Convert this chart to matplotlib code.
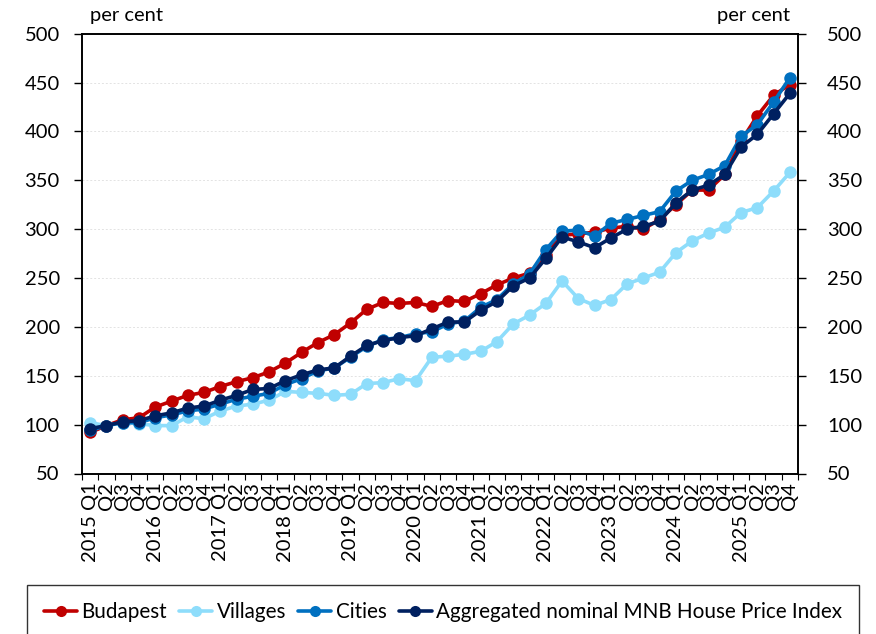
import matplotlib
matplotlib.use("Agg")
import matplotlib.pyplot as plt
from matplotlib.ticker import FixedLocator, MultipleLocator

plt.rcParams['font.family'] = ['Lato', 'DejaVu Sans']

years = list(range(2015, 2026))
quarters = ["Q1", "Q2", "Q3", "Q4"]
tick_labels = []
for yv in years:
    for q in quarters:
        tick_labels.append(f"{yv} {q}" if q == "Q1" else q)

budapest = [92, 99, 105, 107, 118, 124, 130, 133, 139, 144, 148, 154,
            163, 174, 184, 192, 204, 218, 225, 224, 225, 221, 227, 226,
            234, 243, 250, 255, 274, 294, 295, 297, 301, 303, 300, 310,
            325, 340, 340, 356, 390, 416, 437, 448]
villages = [102, 99, 102, 101, 99, 99, 108, 106, 114, 119, 121, 125,
            134, 133, 132, 130, 131, 142, 143, 147, 145, 169, 170, 172,
            175, 185, 203, 212, 224, 247, 229, 222, 228, 244, 250, 256,
            276, 288, 296, 302, 317, 322, 339, 358]
cities = [94, 99, 102, 102, 107, 110, 114, 116, 121, 126, 129, 132,
          141, 147, 155, 158, 169, 180, 187, 189, 193, 195, 203, 206,
          220, 228, 244, 254, 279, 298, 299, 293, 306, 310, 314, 318,
          339, 350, 356, 365, 395, 407, 430, 455]
aggregated = [96, 99, 103, 104, 109, 112, 117, 119, 125, 130, 136, 137,
              145, 151, 156, 158, 170, 181, 186, 189, 191, 198, 205, 205,
              217, 226, 242, 250, 270, 292, 287, 281, 291, 300, 303, 308,
              327, 340, 345, 356, 384, 397, 418, 439]

series = [
    ("Budapest", budapest, "#C00000"),
    ("Villages", villages, "#8EDDFB"),
    ("Cities", cities, "#0070C0"),
    ("Aggregated nominal MNB House Price Index", aggregated, "#002060"),
]

fig = plt.figure(figsize=(8.76, 6.34), dpi=100)
ax = fig.add_axes([82/876, 1-473.5/634, (798-82)/876, (473.5-33.7)/634])

x = list(range(len(tick_labels)))
handles = []
for name, vals, col in series:
    h, = ax.plot(x, vals, color=col, lw=2.6, marker='o', markersize=9,
                 markeredgewidth=0, label=name, solid_capstyle='round')
    handles.append(h)

ax.set_xlim(-0.5, len(x) - 0.5)
ax.set_ylim(50, 500)
ax.yaxis.set_major_locator(MultipleLocator(50))
ax.grid(axis='y', color='#E3E3E3', ls=(0, (2, 2)), lw=0.7)
ax.set_axisbelow(True)

ax.set_xticks(x)
ax.set_xticklabels(tick_labels, rotation=90, fontsize=14.5)
ax.tick_params(axis='x', which='major', length=0, pad=6)
ax.xaxis.set_minor_locator(FixedLocator([i - 0.5 for i in range(len(x) + 1)]))
ax.tick_params(axis='x', which='minor', length=4, width=0.8, direction='out')

ax.tick_params(axis='y', labelsize=14.5, length=6, width=1, pad=10, direction='out')
for s in ax.spines.values():
    s.set_color('black')
    s.set_linewidth(1.2)

ax2 = ax.twinx()
ax2.set_ylim(50, 500)
ax2.yaxis.set_major_locator(MultipleLocator(50))
ax2.tick_params(axis='y', labelsize=14.5, length=6, width=1, pad=15, direction='out')
for s in ax2.spines.values():
    s.set_linewidth(1.2)

fig.text(90/876, 1-15/634, "per cent", fontsize=14.5, ha='left', va='center')
fig.text(790/876, 1-15/634, "per cent", fontsize=14.5, ha='right', va='center')

leg = fig.legend(handles=handles, loc='center', bbox_to_anchor=(443/876, 1-612/634),
                 ncol=4, fontsize=14.9, frameon=True, fancybox=False,
                 edgecolor='black', handlelength=1.6, handletextpad=0.2,
                 columnspacing=0.6, borderpad=0.8, borderaxespad=0)
leg.get_frame().set_linewidth(1.0)
for lh in leg.legend_handles:
    lh.set_markersize(8)

fig.savefig("out.png", dpi=100)
